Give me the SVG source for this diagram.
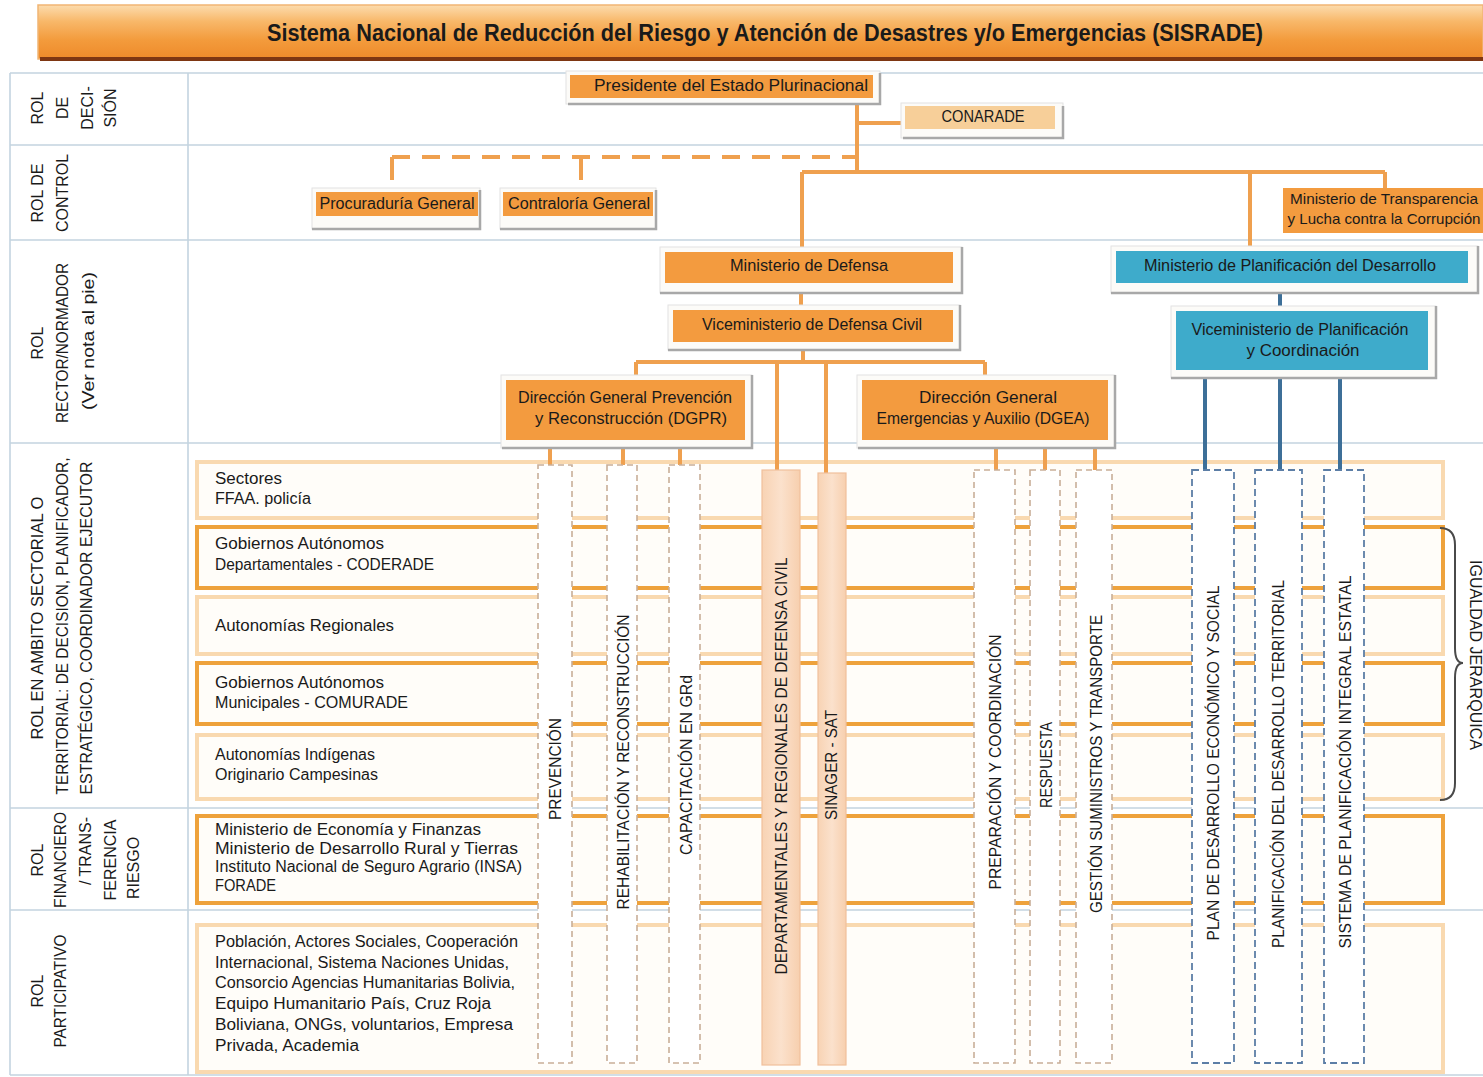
<svg xmlns="http://www.w3.org/2000/svg" width="1483" height="1077" viewBox="0 0 1483 1077">
<defs>
<linearGradient id="gTitle" x1="0" y1="0" x2="0" y2="1">
<stop offset="0" stop-color="#fcdcae"/><stop offset="0.3" stop-color="#f8b86a"/><stop offset="0.65" stop-color="#f39b3c"/><stop offset="1" stop-color="#ee8a2a"/>
</linearGradient>
<linearGradient id="gPeach" x1="0" y1="0" x2="1" y2="0">
<stop offset="0" stop-color="#f8d3b4"/><stop offset="0.5" stop-color="#fbe1cc"/><stop offset="1" stop-color="#f7cfae"/>
</linearGradient>
<style>
text{font-family:"Liberation Sans",Arial,sans-serif;fill:#1a1a1a;}
.t16{font-size:16px;}
.t15{font-size:15px;}
.mid{text-anchor:middle;}
.cen{text-anchor:middle;dominant-baseline:central;}
.grid{stroke:#c4d4e0;stroke-width:1.6;fill:none;}
.frame{fill:#fcfbf8;stroke:#e2e2e2;stroke-width:1;}
.shd{stroke:#a8a8a8;stroke-width:2.5;fill:none;}
.org{fill:#f39b3f;}
.blu{fill:#3eabcb;}
.pale{fill:#fffdf9;stroke:#f9d9b0;stroke-width:4;}
.thick{fill:#fffdf9;stroke:#eea23c;stroke-width:4;}
.colO{fill:#ffffff;stroke:#c9ae98;stroke-width:1.6;stroke-dasharray:6 4;}
.colB{fill:#ffffff;stroke:#5c7ea6;stroke-width:1.8;stroke-dasharray:7 4;}
.colP{fill:url(#gPeach);stroke:#f0c09c;stroke-width:1.2;}
.con{stroke:#efa04f;stroke-width:4;fill:none;}
.conB{stroke:#3d6f98;stroke-width:4;fill:none;}
</style>
</defs>

<rect x="0" y="0" width="1483" height="1077" fill="#ffffff"/>

<!-- title banner -->
<g id="title">
<rect x="38" y="5" width="1445" height="54" fill="url(#gTitle)" stroke="#f1b574" stroke-width="1.5"/>
<rect x="40" y="57" width="1443" height="4" fill="#7e3612"/>
<text x="765" y="41" class="mid" font-size="23" font-weight="bold" textLength="996" lengthAdjust="spacingAndGlyphs">Sistema Nacional de Reducción del Riesgo y Atención de Desastres y/o Emergencias (SISRADE)</text>
</g>

<!-- grid -->
<g id="grid">
<path class="grid" d="M10 73 H1483 M10 145 H1483 M10 240 H1483 M10 443 H1483 M10 808 H1483 M10 910 H1483 M10 1075 H1483 M10 73 V1075 M188 73 V1075"/>
</g>

<!-- role labels -->
<g id="roles" class="t16">
<g id="rol-decision">
<text class="cen" transform="translate(37,108) rotate(-90)">ROL</text>
<text class="cen" transform="translate(62,108) rotate(-90)">DE</text>
<text class="cen" transform="translate(87,108) rotate(-90)">DECI-</text>
<text class="cen" transform="translate(110,108) rotate(-90)">SIÓN</text>
</g>
<g id="rol-control">
<text class="cen" transform="translate(37,193) rotate(-90)">ROL DE</text>
<text class="cen" transform="translate(62,193) rotate(-90)">CONTROL</text>
</g>
<g id="rol-rector">
<text class="cen" transform="translate(37,343) rotate(-90)">ROL</text>
<text class="cen" transform="translate(62,343) rotate(-90)" textLength="160" lengthAdjust="spacingAndGlyphs">RECTOR/NORMADOR</text>
<text class="cen" transform="translate(88,341) rotate(-90)" textLength="138" lengthAdjust="spacingAndGlyphs">(Ver nota al pie)</text>
</g>
<g id="rol-ambito">
<text class="cen" transform="translate(37,618) rotate(-90)" textLength="243" lengthAdjust="spacingAndGlyphs">ROL EN AMBITO SECTORIAL O</text>
<text class="cen" transform="translate(62,626) rotate(-90)" textLength="337" lengthAdjust="spacingAndGlyphs">TERRITORIAL: DE DECISION, PLANIFICADOR,</text>
<text class="cen" transform="translate(86,628) rotate(-90)" textLength="333" lengthAdjust="spacingAndGlyphs">ESTRATÉGICO, COORDINADOR EJECUTOR</text>
</g>
<g id="rol-financiero">
<text class="cen" transform="translate(37,860) rotate(-90)">ROL</text>
<text class="cen" transform="translate(60,860) rotate(-90)" textLength="96" lengthAdjust="spacingAndGlyphs">FINANCIERO</text>
<text class="cen" transform="translate(85,851) rotate(-90)">/ TRANS-</text>
<text class="cen" transform="translate(110,860) rotate(-90)">FERENCIA</text>
<text class="cen" transform="translate(133,868) rotate(-90)">RIESGO</text>
</g>
<g id="rol-participativo">
<text class="cen" transform="translate(37,991) rotate(-90)">ROL</text>
<text class="cen" transform="translate(60,991) rotate(-90)" textLength="113" lengthAdjust="spacingAndGlyphs">PARTICIPATIVO</text>
</g>
</g>

<!-- row boxes -->
<g id="rows" class="t16">
<g id="row-sectores"><rect class="pale" x="197" y="462" width="1246" height="56"/>
<text x="215" y="484" textLength="67" lengthAdjust="spacingAndGlyphs">Sectores</text>
<text x="215" y="504" textLength="96" lengthAdjust="spacingAndGlyphs">FFAA. policía</text></g>
<g id="row-coderade"><rect class="thick" x="197" y="527" width="1246" height="61"/>
<text x="215" y="549" textLength="169" lengthAdjust="spacingAndGlyphs">Gobiernos Autónomos</text>
<text x="215" y="570" textLength="219" lengthAdjust="spacingAndGlyphs">Departamentales - CODERADE</text></g>
<g id="row-regionales"><rect class="pale" x="197" y="597" width="1246" height="57"/>
<text x="215" y="631" textLength="179" lengthAdjust="spacingAndGlyphs">Autonomías Regionales</text></g>
<g id="row-comurade"><rect class="thick" x="197" y="663" width="1246" height="61"/>
<text x="215" y="688" textLength="169" lengthAdjust="spacingAndGlyphs">Gobiernos Autónomos</text>
<text x="215" y="708" textLength="193" lengthAdjust="spacingAndGlyphs">Municipales - COMURADE</text></g>
<g id="row-indigenas"><rect class="pale" x="197" y="735" width="1246" height="64"/>
<text x="215" y="760" textLength="160" lengthAdjust="spacingAndGlyphs">Autonomías Indígenas</text>
<text x="215" y="780" textLength="163" lengthAdjust="spacingAndGlyphs">Originario Campesinas</text></g>
<g id="row-financiero"><rect class="thick" x="197" y="816" width="1246" height="87"/>
<text x="215" y="835" textLength="266" lengthAdjust="spacingAndGlyphs">Ministerio de Economía y Finanzas</text>
<text x="215" y="854" textLength="303" lengthAdjust="spacingAndGlyphs">Ministerio de Desarrollo Rural y Tierras</text>
<text x="215" y="872" textLength="307" lengthAdjust="spacingAndGlyphs">Instituto Nacional de Seguro Agrario (INSA)</text>
<text x="215" y="891" textLength="61" lengthAdjust="spacingAndGlyphs">FORADE</text></g>
<g id="row-participativo"><rect class="pale" x="197" y="925" width="1246" height="147"/>
<text x="215" y="947" textLength="303" lengthAdjust="spacingAndGlyphs">Población, Actores Sociales, Cooperación</text>
<text x="215" y="968" textLength="294" lengthAdjust="spacingAndGlyphs">Internacional, Sistema Naciones Unidas,</text>
<text x="215" y="988" textLength="300" lengthAdjust="spacingAndGlyphs">Consorcio Agencias Humanitarias Bolivia,</text>
<text x="215" y="1009" textLength="276" lengthAdjust="spacingAndGlyphs">Equipo Humanitario País, Cruz Roja</text>
<text x="215" y="1030" textLength="298" lengthAdjust="spacingAndGlyphs">Boliviana, ONGs, voluntarios, Empresa</text>
<text x="215" y="1051" textLength="144" lengthAdjust="spacingAndGlyphs">Privada, Academia</text></g>
</g>

<!-- brace -->
<g id="igualdad">
<path d="M1440 528 Q1455 528 1455 545 V648 Q1455 663 1463 663 Q1455 663 1455 678 V783 Q1455 800 1440 800" fill="none" stroke="#4a4a4a" stroke-width="2"/>
<text class="cen t16" transform="translate(1475,655) rotate(90)" textLength="190" lengthAdjust="spacingAndGlyphs">IGUALDAD JERARQUICA</text>
</g>

<!-- connectors -->
<g id="connectors">
<path class="con" d="M857 98 V172 M857 123 H905"/>
<path class="con" d="M392 157 H857" stroke-width="5" stroke-dasharray="18 12"/>
<path class="con" d="M392 157 V180 M581 157 V180"/>
<path class="con" d="M802 172 H1385 M802 172 V252 M1250 172 V251 M1385 172 V188"/>
<path class="con" d="M801 283 V310"/>
<path class="con" d="M803 342 V362 M636 362 H985 M636 362 V380 M985 362 V380 M777 362 V470 M826 362 V473"/>
<path class="con" d="M550 440 V465 M623 440 V465 M680 440 V465"/>
<path class="con" d="M996 440 V470 M1045 440 V470 M1095 440 V470"/>
<path class="conB" d="M1280 283 V311"/>
<path class="conB" d="M1205 370 V470 M1280 370 V470 M1340 370 V470"/>
</g>

<!-- columns -->
<g id="columns" class="t16">
<g id="col-prevencion"><rect class="colO" x="538" y="465" width="34" height="598"/>
<text class="cen" transform="translate(555,769) rotate(-90)" textLength="102" lengthAdjust="spacingAndGlyphs">PREVENCIÓN</text></g>
<g id="col-rehabilitacion"><rect class="colO" x="607" y="465" width="30" height="598"/>
<text class="cen" transform="translate(623,762) rotate(-90)" textLength="295" lengthAdjust="spacingAndGlyphs">REHABILITACIÓN Y RECONSTRUCCIÓN</text></g>
<g id="col-capacitacion"><rect class="colO" x="669" y="465" width="31" height="598"/>
<text class="cen" transform="translate(686,765) rotate(-90)" textLength="180" lengthAdjust="spacingAndGlyphs">CAPACITACIÓN EN GRd</text></g>
<g id="col-departamentales"><rect class="colP" x="762" y="470" width="38" height="595"/>
<text class="cen" transform="translate(781,766) rotate(-90)" textLength="417" lengthAdjust="spacingAndGlyphs">DEPARTAMENTALES Y REGIONALES DE DEFENSA CIVIL</text></g>
<g id="col-sinager"><rect class="colP" x="818" y="473" width="28" height="592"/>
<text class="cen" transform="translate(831,765) rotate(-90)" textLength="110" lengthAdjust="spacingAndGlyphs">SINAGER - SAT</text></g>
<g id="col-preparacion"><rect class="colO" x="974" y="470" width="41" height="593"/>
<text class="cen" transform="translate(995,762) rotate(-90)" textLength="255" lengthAdjust="spacingAndGlyphs">PREPARACIÓN Y COORDINACIÓN</text></g>
<g id="col-respuesta"><rect class="colO" x="1030" y="470" width="30" height="593"/>
<text class="cen" transform="translate(1046,765) rotate(-90)" textLength="86" lengthAdjust="spacingAndGlyphs">RESPUESTA</text></g>
<g id="col-gestion"><rect class="colO" x="1076" y="470" width="36" height="593"/>
<text class="cen" transform="translate(1096,764) rotate(-90)" textLength="298" lengthAdjust="spacingAndGlyphs">GESTIÓN SUMINISTROS Y TRANSPORTE</text></g>
<g id="col-plan"><rect class="colB" x="1192" y="470" width="42" height="593"/>
<text class="cen" transform="translate(1213,763) rotate(-90)" textLength="355" lengthAdjust="spacingAndGlyphs">PLAN DE DESARROLLO ECONÓMICO Y SOCIAL</text></g>
<g id="col-planificacion"><rect class="colB" x="1255" y="470" width="47" height="593"/>
<text class="cen" transform="translate(1278,764) rotate(-90)" textLength="368" lengthAdjust="spacingAndGlyphs">PLANIFICACIÓN DEL DESARROLLO TERRITORIAL</text></g>
<g id="col-sistema"><rect class="colB" x="1324" y="470" width="40" height="593"/>
<text class="cen" transform="translate(1345,762) rotate(-90)" textLength="373" lengthAdjust="spacingAndGlyphs">SISTEMA DE PLANIFICACIÓN INTEGRAL ESTATAL</text></g>
</g>

<!-- nodes -->
<g id="n-presidente">
<rect class="frame" x="566" y="71" width="314" height="33"/>
<path class="shd" d="M568 104 H880 V73"/>
<rect class="org" x="570" y="75" width="303" height="23"/>
<text class="mid t16" x="731" y="91" textLength="274" lengthAdjust="spacingAndGlyphs">Presidente del Estado Plurinacional</text>
</g>
<g id="n-conarade">
<rect class="frame" x="901" y="103" width="162" height="35"/>
<path class="shd" d="M903 138 H1063 V106"/>
<rect x="905" y="106" width="150" height="23" fill="#f7cf99"/>
<text class="mid t16" x="983" y="122" textLength="83" lengthAdjust="spacingAndGlyphs">CONARADE</text>
</g>
<g id="n-procuraduria">
<rect class="frame" x="312" y="188" width="168" height="41"/>
<path class="shd" d="M312 229 H480 V190"/>
<rect class="org" x="316" y="192" width="162" height="24"/>
<text class="mid t16" x="397" y="209" textLength="155" lengthAdjust="spacingAndGlyphs">Procuraduría General</text>
</g>
<g id="n-contraloria">
<rect class="frame" x="500" y="188" width="156" height="41"/>
<path class="shd" d="M500 229 H656 V190"/>
<rect class="org" x="503" y="192" width="150" height="24"/>
<text class="mid t16" x="579" y="209" textLength="142" lengthAdjust="spacingAndGlyphs">Contraloría General</text>
</g>
<g id="n-transparencia">
<rect class="org" x="1283" y="188" width="200" height="45"/>
<text class="mid t15" x="1384" y="204" textLength="188" lengthAdjust="spacingAndGlyphs">Ministerio de Transparencia</text>
<text class="mid t15" x="1384" y="224" textLength="193" lengthAdjust="spacingAndGlyphs">y Lucha contra la Corrupción</text>
</g>
<g id="n-defensa">
<rect class="frame" x="660" y="247" width="302" height="46"/>
<path class="shd" d="M660 293 H962 V247"/>
<rect class="org" x="665" y="252" width="288" height="31"/>
<text class="mid t16" x="809" y="271" textLength="158" lengthAdjust="spacingAndGlyphs">Ministerio de Defensa</text>
</g>
<g id="n-vdefensa">
<rect class="frame" x="668" y="305" width="292" height="45"/>
<path class="shd" d="M668 350 H960 V305"/>
<rect class="org" x="673" y="310" width="280" height="32"/>
<text class="mid t16" x="812" y="330" textLength="220" lengthAdjust="spacingAndGlyphs">Viceministerio de Defensa Civil</text>
</g>
<g id="n-dgpr">
<rect class="frame" x="501" y="375" width="251" height="73"/>
<path class="shd" d="M502 448 H752 V375"/>
<rect class="org" x="506" y="380" width="239" height="60"/>
<text class="mid t16" x="625" y="403" textLength="214" lengthAdjust="spacingAndGlyphs">Dirección General Prevención</text>
<text class="mid t16" x="631" y="424" textLength="192" lengthAdjust="spacingAndGlyphs">y Reconstrucción (DGPR)</text>
</g>
<g id="n-dgea">
<rect class="frame" x="857" y="375" width="258" height="73"/>
<path class="shd" d="M858 448 H1115 V375"/>
<rect class="org" x="862" y="380" width="246" height="60"/>
<text class="mid t16" x="988" y="403" textLength="138" lengthAdjust="spacingAndGlyphs">Dirección General</text>
<text class="mid t16" x="983" y="424" textLength="213" lengthAdjust="spacingAndGlyphs">Emergencias y Auxilio (DGEA)</text>
</g>
<g id="n-planificacion">
<rect class="frame" x="1111" y="246" width="367" height="47"/>
<path class="shd" d="M1111 293 H1478 V246"/>
<rect class="blu" x="1116" y="251" width="352" height="32"/>
<text class="mid t16" x="1290" y="271" textLength="292" lengthAdjust="spacingAndGlyphs">Ministerio de Planificación del Desarrollo</text>
</g>
<g id="n-vplanificacion">
<rect class="frame" x="1171" y="306" width="265" height="72"/>
<path class="shd" d="M1171 378 H1436 V306"/>
<rect class="blu" x="1176" y="311" width="252" height="59"/>
<text class="mid t16" x="1300" y="335" textLength="217" lengthAdjust="spacingAndGlyphs">Viceministerio de Planificación</text>
<text class="mid t16" x="1303" y="356" textLength="113" lengthAdjust="spacingAndGlyphs">y Coordinación</text>
</g>
</svg>
